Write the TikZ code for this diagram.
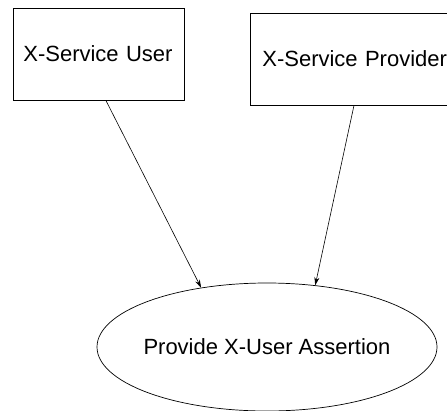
\documentclass[tikz,border=0pt]{standalone}
\usepackage{fontspec}
\setmainfont{Liberation Sans}
\usetikzlibrary{shapes.geometric,arrows.meta}
\begin{document}
\begin{tikzpicture}[x=1pt,y=-1pt,
    actor/.style={draw,line width=0.7pt,minimum height=92pt,inner xsep=10pt,
      anchor=west,align=left,font=\fontsize{22}{26}\selectfont},
    usecase/.style={draw,ellipse,line width=0.7pt,minimum width=340pt,
      minimum height=128pt,inner sep=0pt,
      label={[font=\fontsize{22}{26}\selectfont]center:#1}},
    link/.style={-{Stealth[length=8pt,width=5pt]},line width=0.6pt}]
      \useasboundingbox (0,0) rectangle (447,410);
      \node [actor,text width=151pt] (user) at (13,54) {X-Service User};
      \node [actor,inner xsep=12pt,text width=210pt] (provider) at (250,59) {X-Service Provider};
      \node [usecase={Provide X-User Assertion}] (assert) at (267,347) {};
      \draw [link] ([xshift=7pt]user.south) -- (assert.138.7);
      \draw [link] ([xshift=104pt]provider.south west) -- (assert.52.6);
    \end{tikzpicture}
\end{document}
